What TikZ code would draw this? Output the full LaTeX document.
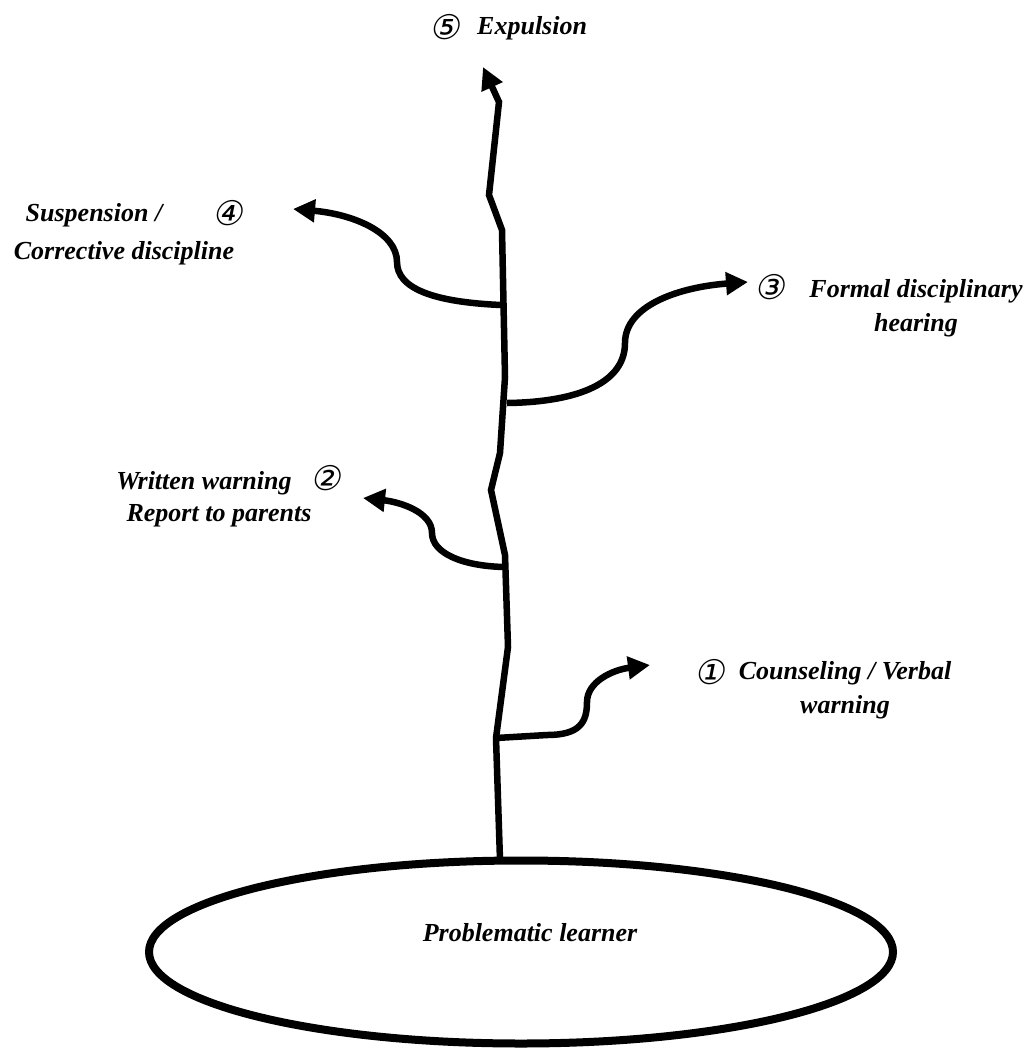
\documentclass[tikz,border=0pt]{standalone}
\usepackage{fontspec}
\setmainfont{Liberation Serif}
\newfontfamily\circfont[FakeSlant=0.2]{DejaVu Sans}
\usetikzlibrary{arrows.meta,shapes.geometric}
\begin{document}
\begin{tikzpicture}[x=1pt,y=-1pt,
  stem/.style={line width=6.5pt},
  branch/.style={line width=6.5pt,-{Triangle[length=22pt,width=22pt]}},
  lbl/.style={font=\fontsize{26}{34}\selectfont\bfseries\itshape,align=center,inner sep=0pt},
  num/.style={font=\fontsize{34}{36}\selectfont\circfont,inner sep=0pt}]
\useasboundingbox (0,0) rectangle (1036,1050);
% base
\node[draw,ellipse,line width=8pt,minimum width=744pt,minimum height=183pt] (learner) at (521,952) {};
\node[lbl] (learnertxt) at (530,933) {Problematic learner};
% stem coordinates
\coordinate (s0) at (500,860);
\coordinate (j1) at (496,738);
\coordinate (s2) at (508,647);
\coordinate (s3) at (505,555);
\coordinate (j2) at (504,567);
\coordinate (s4) at (491,490);
\coordinate (s5) at (500,453);
\coordinate (j3) at (507,403);
\coordinate (s6) at (505,377);
\coordinate (j4) at (501,305);
\coordinate (s7) at (502,230);
\coordinate (s8) at (489,195);
\coordinate (s9) at (499,102);
\coordinate (t5) at (483,67);
\draw[stem,-{Triangle[length=22pt,width=22pt]}] (s0) -- (j1) -- (s2) -- (s3) -- (s4) -- (s5) -- (s6) -- (s7) -- (s8) -- (s9) -- (t5);
% branch tips
\coordinate (t1) at (650,665);
\coordinate (t2) at (363,498);
\coordinate (t3) at (748,282);
\coordinate (t4) at (293,209);
\draw[branch] (j1) -- (547,735) .. controls (580,735) and (587,722) .. (587,702) .. controls (587,682) and (612,670) .. (t1);
\draw[branch] (j2) .. controls (462,566) and (432,553) .. (432,533) .. controls (432,512) and (400,502) .. (t2);
\draw[branch] (j3) .. controls (580,402) and (625,382) .. (625,343) .. controls (625,305) and (680,287) .. (t3);
\draw[branch] (j4) .. controls (432,302) and (397,288) .. (397,262) .. controls (397,232) and (352,214) .. (t4);
% labels
\node[num] (n5) at (445,27) {⑤};
\node[lbl,anchor=west] (l5) at (477,28) {Expulsion};
\node[lbl] (l4a) at (94,215) {Suspension /};
\node[lbl] (l4b) at (124,253) {Corrective discipline};
\node[num] (n4) at (228,213) {④};
\node[num] (n3) at (770,287) {③};
\node[lbl] (l3) at (916,308) {Formal disciplinary\\hearing};
\node[lbl] (l2a) at (204,483) {Written warning};
\node[lbl] (l2b) at (219,516) {Report to parents};
\node[num] (n2) at (326,478) {②};
\node[num] (n1) at (710,672) {①};
\node[lbl] (l1) at (845,690) {Counseling / Verbal\\warning};
\end{tikzpicture}
\end{document}
